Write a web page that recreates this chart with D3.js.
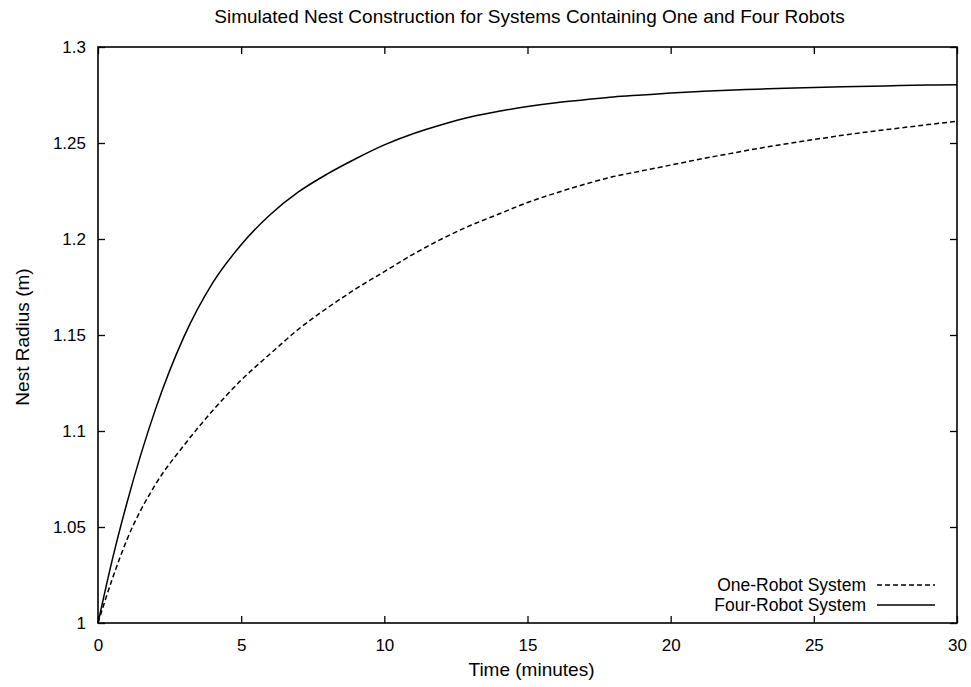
<!DOCTYPE html>
<html>
<head>
<meta charset="utf-8">
<script src="https://cdn.jsdelivr.net/npm/d3@7"></script>
<style>
	body { margin: 0; background: #fff; }
	text { font-family: 'Liberation Sans', Arial, sans-serif; fill: #000; }
</style>
</head>
<body>
<div data-chart></div>
<script>
const dimensions = {
	width: 971,
	height: 687,
	marginLeft: 98,
	marginRight: 14,
	marginTop: 47,
	marginBottom: 64
}

const chartTitle = 'Simulated Nest Construction for Systems Containing One and Four Robots'
const xLabel = 'Time (minutes)'
const yLabel = 'Nest Radius (m)'

const xTicks = [0, 5, 10, 15, 20, 25, 30]
const yTicks = [1, 1.05, 1.1, 1.15, 1.2, 1.25, 1.3]

// minutes
const times = [0, 0.5, 1, 2, 3, 4, 5, 6, 7, 8, 9, 10, 11, 12, 13, 14, 15,
	16, 17, 18, 19, 20, 21, 22, 23, 24, 25, 26, 27, 28, 29, 30]

const oneRobot = [1.000, 1.023, 1.043, 1.072, 1.0925, 1.1105, 1.1265, 1.140, 1.153,
	1.164, 1.174, 1.183, 1.192, 1.200, 1.207, 1.213, 1.219, 1.224, 1.2285, 1.2325,
	1.2355, 1.2385, 1.2415, 1.2443, 1.247, 1.2495, 1.2518, 1.254, 1.256, 1.2578, 1.2596, 1.2613]

const fourRobot = [1.000, 1.033, 1.062, 1.111, 1.149, 1.177, 1.197, 1.2125, 1.2245,
	1.2338, 1.2418, 1.249, 1.2548, 1.2595, 1.2635, 1.2665, 1.269, 1.271, 1.2725, 1.274,
	1.275, 1.276, 1.2768, 1.2775, 1.278, 1.2785, 1.2789, 1.2793, 1.2796, 1.2799, 1.2802, 1.2804]

const seriesNames = ['One-Robot System', 'Four-Robot System']
const seriesValues = [oneRobot, fourRobot]
const seriesDash = ['5,3', null]

const draw = () => {
	const svg = d3.select('[data-chart]')
		.append('svg')
		.attr('width', dimensions.width)
		.attr('height', dimensions.height)

	const x0 = dimensions.marginLeft
	const x1 = dimensions.width - dimensions.marginRight
	const y0 = dimensions.height - dimensions.marginBottom
	const y1 = dimensions.marginTop

	const xScale = d3.scaleLinear().domain([0, 30]).range([x0, x1])
	const yScale = d3.scaleLinear().domain([1, 1.3]).range([y0, y1])

	/* Axes with mirrored inward ticks */
	const fmtY = (d) => d3.format('~g')(d)

	svg.append('g')
		.attr('transform', `translate(0,${y0})`)
		.call(d3.axisBottom(xScale).tickValues(xTicks).tickSizeInner(-7).tickSizeOuter(0).tickPadding(16))
	svg.append('g')
		.attr('transform', `translate(0,${y1})`)
		.call(d3.axisTop(xScale).tickValues(xTicks).tickSizeInner(-7).tickSizeOuter(0).tickFormat(''))
	svg.append('g')
		.attr('transform', `translate(${x0},0)`)
		.call(d3.axisLeft(yScale).tickValues(yTicks).tickFormat(fmtY).tickSizeInner(-7).tickSizeOuter(0).tickPadding(12))
	svg.append('g')
		.attr('transform', `translate(${x1},0)`)
		.call(d3.axisRight(yScale).tickValues(yTicks).tickSizeInner(-7).tickSizeOuter(0).tickFormat(''))

	svg.selectAll('.domain').remove()
	svg.selectAll('.tick line').attr('stroke', '#000').attr('stroke-width', 1.3)
	svg.selectAll('.tick text')
		.style('font-family', "'Liberation Sans', Arial, sans-serif")
		.style('font-size', '17px')
		.attr('fill', '#000')

	/* Frame */
	svg.append('rect')
		.attr('x', x0)
		.attr('y', y1)
		.attr('width', x1 - x0)
		.attr('height', y0 - y1)
		.attr('fill', 'none')
		.attr('stroke', '#000')
		.attr('stroke-width', 1.6)

	/* Lines */
	const lineGenerator = (values) => d3.line()
		.x((d, i) => xScale(times[i]))
		.y((d) => yScale(d))
		.curve(d3.curveMonotoneX)(values)

	seriesValues.forEach((values, i) => {
		svg.append('path')
			.attr('d', lineGenerator(values))
			.attr('fill', 'none')
			.attr('stroke', '#000')
			.attr('stroke-width', 1.5)
			.attr('stroke-dasharray', seriesDash[i])
	})

	/* Legend */
	const legendY = [585, 605]
	seriesNames.forEach((name, i) => {
		svg.append('text')
			.attr('x', 866)
			.attr('y', legendY[i])
			.attr('dy', '0.35em')
			.attr('text-anchor', 'end')
			.style('font-size', '17.5px')
			.text(name)
		svg.append('line')
			.attr('x1', 877)
			.attr('x2', 935)
			.attr('y1', legendY[i])
			.attr('y2', legendY[i])
			.attr('stroke', '#000')
			.attr('stroke-width', 1.5)
			.attr('stroke-dasharray', seriesDash[i])
	})

	/* Titles */
	svg.append('text')
		.attr('x', (x0 + x1) / 2 + 2)
		.attr('y', 23)
		.attr('text-anchor', 'middle')
		.style('font-size', '19px')
		.text(chartTitle)

	svg.append('text')
		.attr('x', (x0 + x1) / 2 + 4)
		.attr('y', 676)
		.attr('text-anchor', 'middle')
		.style('font-size', '19px')
		.text(xLabel)

	svg.append('text')
		.attr('transform', `translate(29,${(y0 + y1) / 2 + 2}) rotate(-90)`)
		.attr('text-anchor', 'middle')
		.style('font-size', '19px')
		.text(yLabel)
}

draw()
</script>
</body>
</html>
